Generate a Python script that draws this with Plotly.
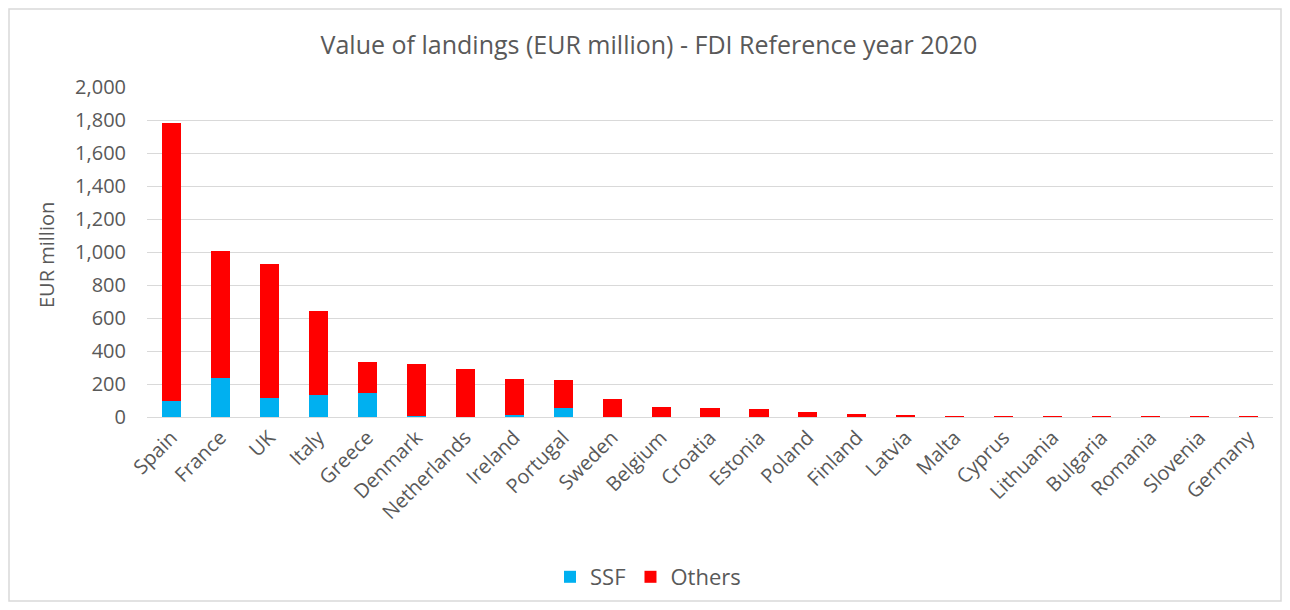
import plotly.graph_objects as go

countries = ["Spain", "France", "UK", "Italy", "Greece", "Denmark", "Netherlands", "Ireland",
             "Portugal", "Sweden", "Belgium", "Croatia", "Estonia", "Poland", "Finland", "Latvia",
             "Malta", "Cyprus", "Lithuania", "Bulgaria", "Romania", "Slovenia", "Germany"]
ssf = [95, 235, 117, 135, 144, 5, 1, 12, 55, 3, 1, 2, 1, 1, 1, 0.5, 0.5, 0.3, 0.1, 0.1, 0.1, 0.1, 0.1]
others = [1685, 771, 810, 509, 191, 314, 292, 216, 169, 106, 57, 54, 46, 27, 15, 9, 4, 0.5, 0.2, 0.2, 0.1, 0.1, 0.1]
y_ticks = [0, 200, 400, 600, 800, 1000, 1200, 1400, 1600, 1800, 2000]

FONT = "Open Sans"
GREY = "#595959"

fig = go.Figure()
fig.add_trace(go.Bar(x=countries, y=ssf, name="SSF", marker_color="#00B0F0", marker_line_width=0))
fig.add_trace(go.Bar(x=countries, y=others, name="Others", marker_color="#FF0000", marker_line_width=0))

# page has an 8px body margin; figure coordinates = page coordinates - 8
W, H = 1274, 594
L, R, T, B = 139, 9, 79, 185
pw, ph = W - L - R, H - T - B

fig.update_layout(
    width=W, height=H,
    barmode="stack", bargap=0.61,
    margin=dict(l=L, r=R, t=T, b=B, autoexpand=False),
    paper_bgcolor="white", plot_bgcolor="white",
    font=dict(family=FONT, color=GREY, size=20),
    title=dict(text="Value of landings (EUR million) - FDI Reference year 2020",
               x=641 / W, xref="container", xanchor="center", y=1 - 37 / H, yanchor="middle",
               font=dict(family=FONT, size=25, color=GREY)),
    legend=dict(orientation="h", x=(640 - L) / pw, xanchor="center", xref="paper",
                y=(409 - 569) / ph, yanchor="middle", font=dict(size=22, color=GREY),
                itemwidth=30, traceorder="normal"),
    showlegend=True,
)
fig.update_yaxes(range=[0, 2000], tickvals=y_ticks, tickformat=",", showgrid=True,
                 gridcolor="#d9d9d9", gridwidth=1, zeroline=False, showline=False,
                 ticks="", ticklabelstandoff=20, tickfont=dict(size=20, color=GREY))
fig.update_xaxes(tickangle=-45, showline=True, linecolor="#d9d9d9", ticks="",
                 tickfont=dict(size=20, color=GREY))

fig.add_annotation(text="EUR million", textangle=-90, xref="paper", yref="paper",
                   x=(39 - L) / pw, y=(409 - 247) / ph, xanchor="center", yanchor="middle",
                   showarrow=False, font=dict(size=20, color=GREY))

fig.add_shape(type="rect", xref="paper", yref="paper",
              x0=(1 - L) / pw, x1=(1273 - L) / pw,
              y0=(409 - 593) / ph, y1=(409 - 1) / ph,
              line=dict(color="#d9d9d9", width=1.5), fillcolor="rgba(0,0,0,0)", layer="below")

fig.write_html("out.html")
